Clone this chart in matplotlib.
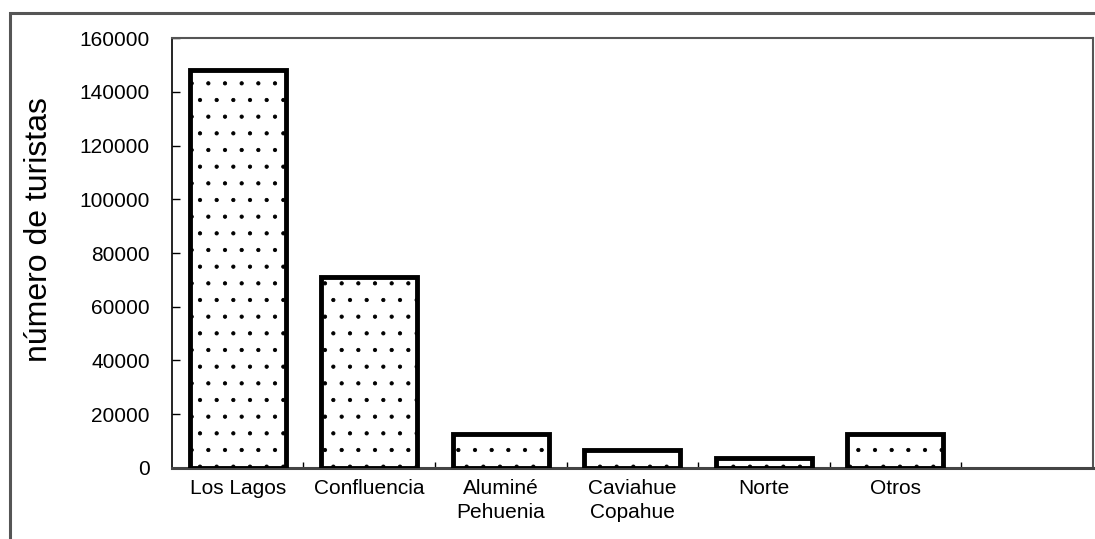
import matplotlib.pyplot as plt
from matplotlib.patches import Rectangle

# data
categories = ['Los Lagos', 'Confluencia', 'Aluminé\nPehuenia', 'Caviahue\nCopahue', 'Norte', 'Otros']
turistas = [148000, 71000, 12500, 6800, 3700, 12500]
yticks = [0, 20000, 40000, 60000, 80000, 100000, 120000, 140000, 160000]

plt.rcParams['font.family'] = ['Liberation Sans', 'DejaVu Sans']
plt.rcParams['hatch.linewidth'] = 0.6

fig = plt.figure(figsize=(10.95, 5.39), dpi=100)
ax = fig.add_axes([0.157, 0.132, 0.841, 0.797])

# outer chart-area frame (runs off the right and bottom edges)
fig.patches.append(Rectangle((10 / 1095, -0.05), 1.1, 1 - 13 / 539 + 0.05,
                             transform=fig.transFigure, fill=False,
                             edgecolor='#555555', linewidth=2.2))

x = list(range(len(categories)))
ax.bar(x, turistas, width=0.73, color='white', edgecolor='black',
       linewidth=3.5, hatch='.', zorder=3)

ax.set_xlim(-0.5, 6.5)
ax.set_ylim(0, 160000)
ax.set_yticks(yticks)
ax.set_yticklabels([str(v) for v in yticks], fontsize=15)
ax.tick_params(axis='y', direction='in', length=6, width=1, pad=16)

# boundary ticks between categories, labels at the centres
ax.set_xticks([i + 0.5 for i in range(len(categories))])
ax.set_xticklabels([])
ax.tick_params(axis='x', which='major', direction='in', length=4, width=1)
ax.set_xticks(x, minor=True)
ax.set_xticklabels(categories, minor=True, fontsize=15, linespacing=1.35)
ax.tick_params(axis='x', which='minor', length=0, pad=8)

ax.set_ylabel('número de turistas', fontsize=23)
ax.yaxis.set_label_coords(-0.128, 0.555)

ax.spines['left'].set_linewidth(1.2)
ax.spines['bottom'].set_linewidth(2.2)
ax.spines['bottom'].set_color('#444444')
for s in ['top', 'right']:
    ax.spines[s].set_color('#555555')
    ax.spines[s].set_linewidth(1.5)

fig.savefig('out.png', dpi=100)
